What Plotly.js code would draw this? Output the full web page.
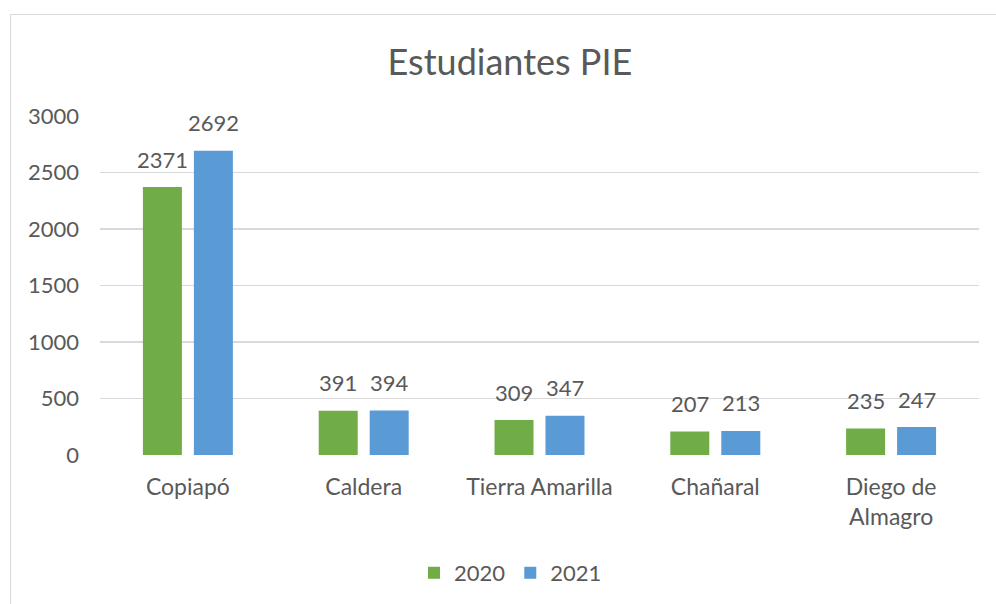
<!DOCTYPE html>
<html>
<head>
<meta charset="utf-8">
<script src="https://cdn.plot.ly/plotly-3.0.1.min.js"></script>
<style>
  html, body { margin: 0; padding: 0; background: #fff; }
  #wrap { position: relative; width: 996px; height: 604px; overflow: hidden; }
  #frame { position: absolute; left: 10px; top: 14px; width: 1000px; height: 600px;
           border-left: 1.5px solid #d9d9d9; border-top: 1.5px solid #d9d9d9; box-sizing: border-box; }
  #chart { position: absolute; left: 0; top: 0; width: 996px; height: 604px; }
</style>
</head>
<body>
<div id="wrap">
  <div id="frame"></div>
  <div id="chart"></div>
</div>
<script>
const categories = ["Copiapó", "Caldera", "Tierra Amarilla", "Chañaral", "Diego de<br>Almagro"];
const values2020 = [2371, 391, 309, 207, 235];
const values2021 = [2692, 394, 347, 213, 247];
const seriesNames = ["2020", "2021"];
const yTicks = [0, 500, 1000, 1500, 2000, 2500, 3000];

const FONT = "Lato, 'Open Sans', sans-serif";
const TXT = "#595959";
const BARGAP = 0.42;
const GROUPGAP = 0.235;

function barTrace(name, vals, color) {
  return {
    type: "bar", name: name, x: categories, y: vals,
    marker: { color: color },
    hoverinfo: "skip"
  };
}

const data = [
  barTrace(seriesNames[0], values2020, "#70AD47"),
  barTrace(seriesNames[1], values2021, "#5B9BD5")
];

// data labels placed at each bar's centre (category index +/- half a bar slot)
const slot = (1 - BARGAP) / 2;
const annotations = [];
[values2020, values2021].forEach((vals, s) => {
  vals.forEach((v, i) => {
    annotations.push({
      x: i + (s === 0 ? -slot / 2 : slot / 2), y: v, xref: "x", yref: "y",
      text: String(v), showarrow: false, xanchor: "center", yanchor: "middle", yshift: 28,
      font: { family: FONT, size: 22, color: TXT }
    });
  });
});

const layout = {
  width: 996, height: 604,
  paper_bgcolor: "rgba(0,0,0,0)", plot_bgcolor: "rgba(0,0,0,0)",
  margin: { l: 100, r: 17, t: 116, b: 149, autoexpand: false },
  font: { family: FONT, color: TXT, size: 22 },
  title: { text: "Estudiantes PIE", x: 0.512, xanchor: "center", y: 0.897, yanchor: "middle",
           xref: "container", yref: "container",
           font: { family: FONT, size: 36, color: TXT } },
  barmode: "group", bargap: BARGAP, bargroupgap: GROUPGAP,
  xaxis: { type: "category", showgrid: false, zeroline: false, showline: false, ticks: "",
           automargin: false,
           tickfont: { family: FONT, size: 23, color: TXT }, ticklabelstandoff: 16 },
  yaxis: { range: [0, 3000], tickvals: yTicks, showgrid: true, gridcolor: "#d9d9d9", gridwidth: 1.5,
           zeroline: false, showline: false, ticks: "", automargin: false,
           tickfont: { family: FONT, size: 22, color: TXT }, ticklabelstandoff: 20 },
  annotations: annotations,
  showlegend: true,
  legend: { orientation: "h", x: 0.467, xanchor: "center", y: -0.348, yanchor: "middle",
            font: { family: FONT, size: 22, color: TXT }, itemwidth: 30, traceorder: "normal" }
};

Plotly.newPlot("chart", data, layout, { displayModeBar: false, staticPlot: true });
</script>
</body>
</html>
